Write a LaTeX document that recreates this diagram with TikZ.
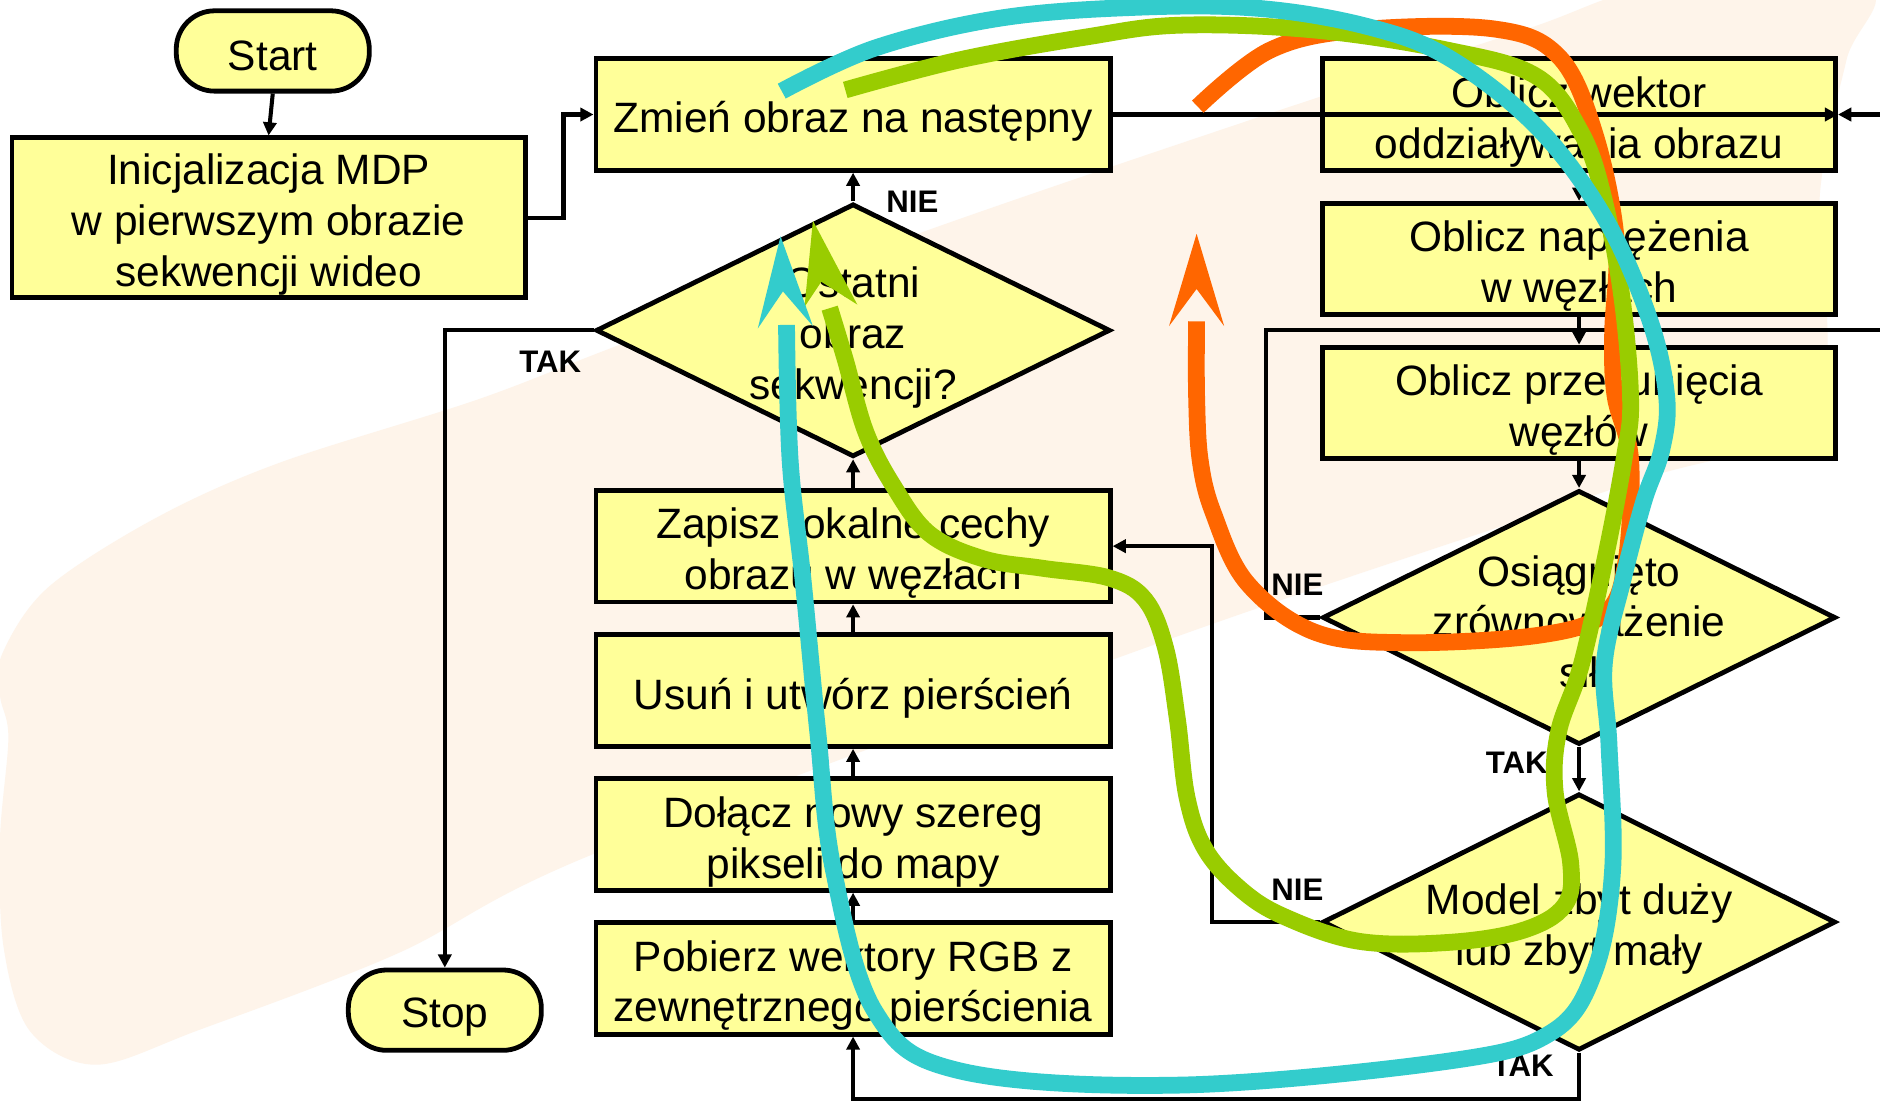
\documentclass[tikz,border=0pt]{standalone}
\usepackage{fontspec}
\setmainfont{Liberation Sans}
\usetikzlibrary{shapes.geometric,arrows.meta}
\definecolor{boxyellow}{RGB}{255,255,153}
\definecolor{peach}{RGB}{254,244,234}
\definecolor{ccyan}{RGB}{51,204,204}
\definecolor{cgreen}{RGB}{153,204,0}
\definecolor{corange}{RGB}{255,102,0}
\tikzset{
 btext/.style={align=center, font=\fontsize{17.7}{21.2}\selectfont, inner sep=0pt, yshift=-3pt},
 box/.style={draw=black, line width=2pt, fill=boxyellow, rectangle, inner sep=0pt},
 lbox/.style={box, minimum width=214.5pt, minimum height=46.5pt},
 rbox/.style={box, minimum width=214pt, minimum height=46.5pt},
 term/.style={box, rounded corners=16pt, minimum width=80.5pt, minimum height=33.5pt},
 dia/.style={diamond, draw=black, line width=2pt, fill=boxyellow, inner sep=0pt},
 dtext/.style={align=center, font=\fontsize{17.7}{21.2}\selectfont, inner sep=0pt},
 conn/.style={line width=1.7pt, -{Triangle[length=5.5pt,width=5.5pt]}},
 plainconn/.style={line width=1.7pt},
 tag/.style={font=\bfseries\fontsize{13}{13}\selectfont, inner sep=0pt},
 flow/.style={line width=7pt, line cap=butt, line join=round},
}
\begin{document}
\begin{tikzpicture}[x=0.5pt,y=-0.5pt]
\useasboundingbox (0,0) rectangle (1568,918);
\fill[white] (0,0) rectangle (1568,918);
\begin{scope}
\clip (0,0) rectangle (1568,918);
\fill[peach] plot[smooth cycle, tension=0.55] coordinates {(2,545) (40,490) (130,432) (233,386) (399,333) (521,286) (771,193) (1034,103) (1271,25) (1380,-10) (1556,-10) (1540,50) (1518,160) (1513,345) (1356,404) (984,530) (498,711) (332,795) (166,859) (80,888) (25,860) (3,790) (0,700) (7,615) (0,580)};
\end{scope}

% nodes
\node[term, label={[btext,yshift=1pt]center:Start}] (start) at (227.5,42.5) {};
\node[box, minimum width=214pt, minimum height=66.5pt, label={[btext]center:{Inicjalizacja MDP\\w pierwszym obrazie\\sekwencji wideo}}] (init) at (224,181.5) {};
\node[lbox, label={[btext]center:{Zmień obraz na następny}}] (zmien) at (711.5,95.5) {};
\node[dia, minimum width=214.5pt, minimum height=105.5pt] (ostatni) at (711.5,275.5) {};
\node[dtext] (ostatnit) at (711.5,281.5) {Ostatni\\obraz\\sekwencji?};
\node[lbox, label={[btext]center:{Zapisz lokalne cechy\\obrazu w węzłach}}] (zapisz) at (711.5,455.5) {};
\node[lbox, label={[btext]center:{Usuń i utwórz pierścień}}] (usun) at (711.5,576) {};
\node[lbox, label={[btext]center:{Dołącz nowy szereg\\pikseli do mapy}}] (dolacz) at (711.5,696) {};
\node[lbox, label={[btext]center:{Pobierz wektory RGB z\\zewnętrznego pierścienia}}] (pobierz) at (711.5,816) {};
\node[term, label={[btext]center:Stop}] (stop) at (371,842.5) {};
\node[rbox, label={[btext]center:{Oblicz wektor\\oddziaływania obrazu}}] (wektor) at (1317,95.5) {};
\node[rbox, label={[btext]center:{Oblicz naprężenia\\w węzłach}}] (naprez) at (1317,216) {};
\node[rbox, label={[btext]center:{Oblicz przesunięcia\\węzłów}}] (przes) at (1317,336) {};
\node[dia, minimum width=214pt, minimum height=106pt] (osi) at (1317,515) {};
\node[dtext] (osit) at (1317,518.5) {Osiągnięto\\zrównoważenie\\sił};
\node[dia, minimum width=214pt, minimum height=107pt] (model) at (1317,769) {};
\node[dtext] (modelt) at (1317,775) {Model zbyt duży\\lub zbyt mały};

% connectors
\coordinate (edgeA) at (1568,95.5);
\coordinate (edgeB) at (1568,275);
\draw[conn] (start.south) -- (init.north);
\draw[conn] (init.east) -- ++(30,0) |- (zmien.west);
\draw[conn] (zmien.east) -- (wektor.east);
\draw[conn] (edgeA) -- (wektor.east);
\draw[conn] (wektor.south) -- (naprez.north);
\draw[plainconn] (osi.west) -- ++(-45,0) |- (edgeB);
\draw[conn] (naprez.south) -- (przes.north);
\draw[conn] (przes.south) -- (osi.north);
\draw[conn] (osi.south) -- (model.north);
\draw[conn] (model.west) -- ++(-90,0) |- (zapisz.east);
\draw[conn] (model.south) -- ++(0,39) -| (pobierz.south);
\draw[conn] (pobierz.north) -- (dolacz.south);
\draw[conn] (dolacz.north) -- (usun.south);
\draw[conn] (usun.north) -- (zapisz.south);
\draw[conn] (zapisz.north) -- (ostatni.south);
\draw[conn] (ostatni.north) -- (zmien.south);
\draw[conn] (ostatni.west) -| (stop.north);

% labels
\node[tag] (nieA) at (761,168) {NIE};
\node[tag] (takA) at (459,302) {TAK};
\node[tag] (nieB) at (1082,488) {NIE};
\node[tag] (takB) at (1265,636) {TAK};
\node[tag] (nieC) at (1082,742) {NIE};
\node[tag] (takC) at (1270,889) {TAK};

% coloured flows
\draw[flow, corange] plot[smooth, tension=0.6] coordinates {(998,268) (998,330) (1001,384) (1012,428) (1040,486) (1096,527) (1170,536) (1282,530) (1338,512) (1356,469) (1360,384) (1347,330) (1345,278) (1348,200) (1330,111) (1300,47) (1245,24) (1133,25) (1059,42) (999,89)};
\fill[corange] (998,195) -- (1021,272) -- (998,241) -- (975,272) -- cycle;

\draw[flow, cgreen] plot[smooth, tension=0.6] coordinates {(692,257) (705,300) (722,360) (745,405) (775,445) (820,466) (870,474) (925,482) (955,500) (972,540) (982,600) (990,665) (1005,708) (1034,741) (1070,764) (1133,785) (1208,786) (1270,776) (1305,755) (1310,720) (1297,660) (1300,610) (1319,554) (1340,460) (1355,380) (1360,334) (1353,250) (1338,167) (1319,111) (1282,64) (1208,42) (1096,25) (984,21) (905,31) (800,50) (705,75)};
\fill[cgreen] (678,184) -- (715,254) -- (685,235) -- (671,256) -- cycle;

\draw[flow, ccyan] plot[smooth, tension=0.6] coordinates {(656,271) (659,384) (670,486) (682,610) (695,725) (730,844) (800,893) (984,905) (1208,885) (1294,861) (1330,810) (1345,725) (1342,622) (1338,554) (1353,486) (1371,418) (1386,375) (1390,330) (1375,264) (1338,181) (1282,106) (1208,48) (1140,22) (1050,7) (950,6) (835,15) (730,40) (652,76)};
\fill[ccyan] (651,197) -- (678,272) -- (653,243) -- (632,274) -- cycle;
\end{tikzpicture}
\end{document}
